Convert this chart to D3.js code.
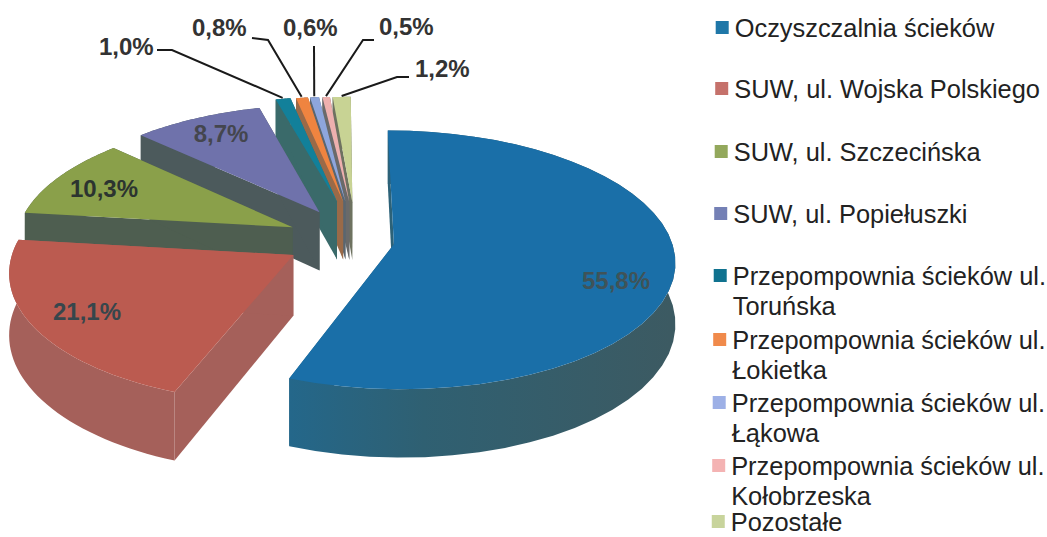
<!DOCTYPE html>
<html>
<head>
<meta charset="utf-8">
<script src="https://cdn.jsdelivr.net/npm/d3@7"></script>
<style>
  html, body { margin: 0; padding: 0; background: #fff; overflow: hidden; }
  text { font-family: "Liberation Sans", Arial, sans-serif; }
</style>
</head>
<body>
<div id="chart"></div>
<script>
// data
const categories = [
    ["Oczyszczalnia ścieków"],
    ["SUW, ul. Wojska Polskiego"],
    ["SUW, ul. Szczecińska"],
    ["SUW, ul. Popiełuszki"],
    ["Przepompownia ścieków ul.", "Toruńska"],
    ["Przepompownia ścieków ul.", "Łokietka"],
    ["Przepompownia ścieków ul.", "Łąkowa"],
    ["Przepompownia ścieków ul.", "Kołobrzeska"],
    ["Pozostałe"]
];
const shares = [55.8, 21.1, 10.3, 8.7, 1.0, 0.8, 0.6, 0.5, 1.2];

// styles
const topColors = ["#1a6fa8", "#bb5b50", "#8aa04a", "#6f72ab", "#12809a", "#ef8440", "#8ea6dc", "#eeb0ae", "#c8d394"];
const wallColors = ["url(#blueWall)", "#a5605a", "#4e5e50", "#4c5a5c", "#3a6a6a", "#9a6a48", "#5a6670", "#6a6a6a", "#6e7260"];
const swatchColors = ["#1f77a8", "#c5716b", "#93a85c", "#7480b5", "#10728f", "#f08a4b", "#9db0e6", "#f4b3b3", "#c8d49c"];

// how far each slice is pulled out of the pie (in radii), and which way (degrees)
const explode = [0.205, 0.185, 0.2, 0.25, 0.33, 0.33, 0.33, 0.33, 0.33];
const explodeBearing = [95, -123, -54, -15, 0, 4, 5.5, 8, 10];

const legendBaselines = [37, 98, 161, 223, 285, 349, 412, 475, 531];

const width = 1047, height = 537;
const cx = 337, cy = 242, rx = 278, ry = 127, persp = 0.12, depth = 60;

// flat disk coordinates -> screen, far side a bit smaller
const project = (u, v) => {
    const w = 1 + persp * v;
    return [cx + rx * u / w, cy - ry * v / w];
};
const drop = (p, v) => [p[0], p[1] + depth / (1 + persp * v)];

const svg = d3.select("#chart").append("svg")
    .attr("width", width)
    .attr("height", height);

// the big slice wall is bluer at its cut end and greyer round the back
const grad = svg.append("defs").append("linearGradient")
    .attr("id", "blueWall")
    .attr("gradientUnits", "userSpaceOnUse")
    .attr("x1", 290).attr("x2", 670)
    .attr("y1", 0).attr("y2", 0);
grad.append("stop").attr("offset", 0).attr("stop-color", "#24678a");
grad.append("stop").attr("offset", 0.35).attr("stop-color", "#2f6072");
grad.append("stop").attr("offset", 1).attr("stop-color", "#3c5a62");

const pie = d3.pie().sort(null).value(d => d);
const arcs = pie(shares).map((d, i) => {
    const mid = (d.startAngle + d.endAngle) / 2;
    const b = explodeBearing[i] * Math.PI / 180;
    const ou = explode[i] * Math.sin(b), ov = explode[i] * Math.cos(b);
    const angles = d3.range(0, 41).map(k => d.startAngle + (d.endAngle - d.startAngle) * k / 40);
    const rim = angles.map(a => [ou + Math.sin(a), ov + Math.cos(a)]);
    return {i, mid, ou, ov, rim, value: d.value};
});

const line = d3.line().curve(d3.curveLinear);
const toTop = p => project(p[0], p[1]);
const toBottom = p => drop(project(p[0], p[1]), p[1]);

// back slices first, so the front ones paint over them
const order = [8, 7, 6, 5, 4, 3, 2, 1, 0];
const slices = svg.append("g").selectAll("g")
    .data(order.map(i => arcs[i]))
    .join("g");

// outer wall
slices.append("path")
    .attr("d", d => line([...d.rim.map(toTop), ...d.rim.slice().reverse().map(toBottom)]) + "Z")
    .attr("fill", d => wallColors[d.i]);

// the two cut faces
[0, 40].forEach(k => {
    slices.append("path")
        .attr("d", d => {
            const a = [d.ou, d.ov], b = d.rim[k];
            return line([toTop(a), toTop(b), toBottom(b), toBottom(a)]) + "Z";
        })
        .attr("fill", d => wallColors[d.i]);
});

// top
slices.append("path")
    .attr("d", d => line([project(d.ou, d.ov), ...d.rim.map(toTop)]) + "Z")
    .attr("fill", d => topColors[d.i]);

const fmt = v => v.toFixed(1).replace(".", ",") + "%";

// labels inside the big slices, hand placed like in the original
const insideLabels = [
    {i: 0, x: 616, y: 289, fill: "#3f5358"},
    {i: 1, x: 87, y: 320, fill: "#37464c"},
    {i: 2, x: 104, y: 197, fill: "#2c3430"},
    {i: 3, x: 221, y: 142, fill: "#44464e"}
];
svg.append("g").selectAll("text")
    .data(insideLabels)
    .join("text")
    .attr("x", d => d.x)
    .attr("y", d => d.y)
    .attr("text-anchor", "middle")
    .attr("font-size", 24)
    .attr("font-weight", "bold")
    .attr("fill", d => d.fill)
    .text(d => fmt(shares[d.i]));

// labels with leader lines for the small slices
const outsideLabels = [
    {i: 4, x: 99, y: 55, elbow: [[157, 50], [172, 50]]},
    {i: 5, x: 192, y: 36, elbow: [[252, 38], [268, 40]]},
    {i: 6, x: 283, y: 36, elbow: [[314, 46]]},
    {i: 7, x: 379, y: 35, elbow: [[374, 40], [363, 40]]},
    {i: 8, x: 415, y: 77, elbow: [[409, 77], [397, 77]]}
];
svg.append("g").selectAll("path")
    .data(outsideLabels)
    .join("path")
    .attr("d", d => {
        const a = arcs[d.i];
        const end = project(a.ou + Math.sin(a.mid) * 1.01, a.ov + Math.cos(a.mid) * 1.01);
        return line([...d.elbow, end]);
    })
    .attr("fill", "none")
    .attr("stroke", "#1a1a1a")
    .attr("stroke-width", 2);

svg.append("g").selectAll("text")
    .data(outsideLabels)
    .join("text")
    .attr("x", d => d.x)
    .attr("y", d => d.y)
    .attr("font-size", 24)
    .attr("font-weight", "bold")
    .attr("fill", "#333")
    .text(d => fmt(shares[d.i]));

// legend
const legendX = y => 735 - y * 0.008;   // the scan leans a little

const legend = svg.append("g").selectAll("g")
    .data(categories)
    .join("g");

legend.append("rect")
    .attr("x", (d, i) => legendX(legendBaselines[i]) - 19)
    .attr("y", (d, i) => legendBaselines[i] - 16)
    .attr("width", 13)
    .attr("height", 13)
    .attr("fill", (d, i) => swatchColors[i]);

legend.each(function (d, i) {
    d3.select(this).selectAll("text")
        .data(d)
        .join("text")
        .attr("x", legendX(legendBaselines[i]))
        .attr("y", (t, k) => legendBaselines[i] + k * 30)
        .attr("font-size", 25.4)
        .attr("fill", "#222")
        .text(t => t);
});
</script>
</body>
</html>
